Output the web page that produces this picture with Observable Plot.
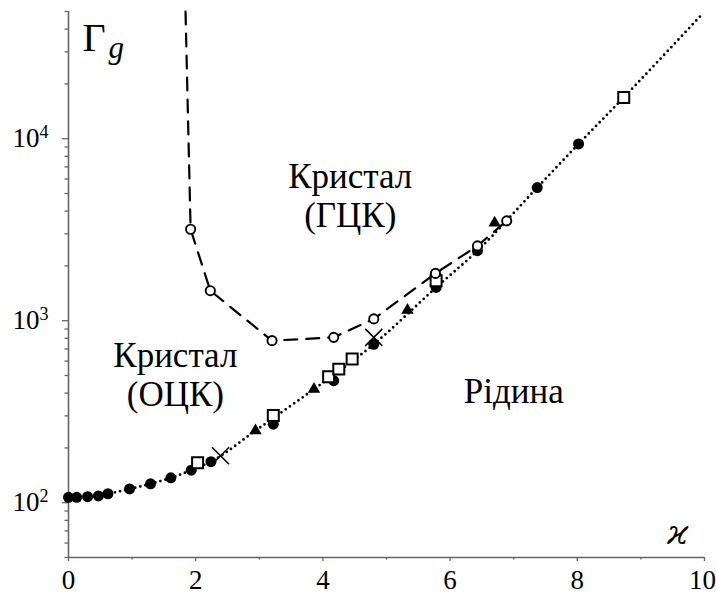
<!DOCTYPE html>
<html>
<head>
<meta charset="utf-8">
<script src="https://cdn.jsdelivr.net/npm/d3@7"></script>
<script src="https://cdn.jsdelivr.net/npm/@observablehq/plot@0.6"></script>
<style>
  html, body { margin: 0; padding: 0; background: #fff; font-family: "Liberation Serif", serif; }
  #chart svg { display: block; overflow: visible; }
</style>
</head>
<body>
<div id="chart"></div>
<script>
// Melting line of the bcc crystal (filled circles)
const bccMeltX = [0, 0.13, 0.30, 0.47, 0.62, 0.96, 1.29, 1.61, 1.93, 2.24, 3.22, 4.17, 4.80, 5.78, 6.43, 7.37, 8.02];
const bccMeltY = [107, 107, 108, 109, 112, 119, 127, 137, 151, 168, 270, 468, 742, 1523, 2424, 5388, 9355];

// bcc–fcc boundary (open circles)
const fccBoundX = [1.92, 2.23, 3.20, 4.17, 4.80, 5.77, 6.43, 6.89];
const fccBoundY = [3180, 1462, 777, 810, 1023, 1820, 2577, 3536];

// Other melting estimates
const squareX = [2.03, 3.22, 4.09, 4.25, 4.46, 5.78, 8.73];
const squareY = [166, 301, 492, 542, 616, 1657, 16860];
const triangleX = [2.94, 3.86, 5.33, 6.70];
const triangleY = [249, 421, 1143, 3450];
const crossX = [2.39, 4.80];
const crossY = [181, 810];

// Fitted melting curve (dotted)
const fitX = [0, 0.62, 0.96, 1.29, 1.61, 1.93, 2.24, 2.94, 3.86, 4.80, 5.78, 6.43, 7.37, 8.02, 8.73, 9.94];
const fitY = [107, 112, 119, 127, 137, 151, 168, 249, 421, 742, 1523, 2424, 5388, 9355, 16860, 47400];

// Boundary line (dashed): starts at the top of the frame
const boundX = [1.84, 1.92, 2.23, 3.20, 4.17, 4.80, 5.77, 6.43, 6.89];
const boundY = [50000, 3180, 1462, 777, 810, 1023, 1820, 2577, 3536];

// Axis ticks
const xMajorTicks = [0, 2, 4, 6, 8, 10];
const xMinorTicks = [1, 3, 5, 7, 9];
const yMajorTicks = [100, 1000, 10000];
const yMinorTicks = [50, 60, 70, 80, 90, 200, 300, 400, 500, 600, 700, 800, 900,
                     2000, 3000, 4000, 5000, 6000, 7000, 8000, 9000, 20000, 30000, 40000, 50000];

// Region labels
const regionLabels = [
  {x: 4.43, y: 3285, text: "Кристал\n(ГЦК)"},
  {x: 1.68, y: 341, text: "Кристал\n(ОЦК)"},
  {x: 7.00, y: 354, text: "Рідина"}
];

const pts = (xs, ys) => xs.map((x, i) => ({x, y: ys[i]}));

const serif = "Liberation Serif, Tinos, Times New Roman, DejaVu Serif, serif";
const kappaFont = "DejaVu Serif, Liberation Serif, serif";

const chart = Plot.plot({
  width: 716,
  height: 594,
  marginLeft: 68,
  marginRight: 12,
  marginTop: 11,
  marginBottom: 37,
  style: {fontSize: "27px", fontFamily: serif, color: "#000", background: "#fff"},
  x: {domain: [0, 10]},
  y: {type: "log", domain: [50, 50000]},
  marks: [
    Plot.axisX({ticks: xMajorTicks, tickSize: 4, tickPadding: 8, stroke: "#666", strokeWidth: 1.3,
                tickFormat: d => String(d), label: null, fontFamily: serif}),
    Plot.axisX({ticks: xMinorTicks, tickSize: 2.5, stroke: "#666", strokeWidth: 1.3,
                tickFormat: () => "", label: null}),
    Plot.axisY({ticks: yMajorTicks, tickSize: 6, tickPadding: 14, stroke: "#666", strokeWidth: 1.3,
                tickFormat: d => "10^" + Math.round(Math.log10(d)), label: null, fontFamily: serif}),
    Plot.axisY({ticks: yMinorTicks, tickSize: 3.5, stroke: "#666", strokeWidth: 1.3,
                tickFormat: () => "", label: null}),
    Plot.ruleX([0], {stroke: "#666", strokeWidth: 1.6}),
    Plot.ruleY([50], {stroke: "#666", strokeWidth: 1.6}),

    // dotted melting curve
    Plot.line(pts(fitX, fitY), {x: "x", y: "y", curve: "monotone-x", stroke: "#000",
      strokeWidth: 2.8, strokeDasharray: "0 5.2", strokeLinecap: "round"}),
    // dashed bcc–fcc boundary
    Plot.line(pts(boundX, boundY), {x: "x", y: "y", curve: "linear", stroke: "#000",
      strokeWidth: 2.2, strokeDasharray: "13 9"}),

    Plot.dot(pts(bccMeltX, bccMeltY), {x: "x", y: "y", r: 5.5, fill: "#000", stroke: "none"}),
    Plot.dot(pts(triangleX, triangleY), {x: "x", y: "y", symbol: "triangle", r: 4.6, fill: "#000", stroke: "none"}),
    Plot.dot(pts(crossX, crossY), {x: "x", y: "y", symbol: "times", r: 7.8, stroke: "#000", strokeWidth: 1.5}),
    Plot.dot(pts(squareX, squareY), {x: "x", y: "y", symbol: "square", r: 6.2, fill: "#fff", stroke: "#000", strokeWidth: 2}),
    Plot.dot(pts(fccBoundX, fccBoundY), {x: "x", y: "y", r: 4.6, fill: "#fff", stroke: "#000", strokeWidth: 1.9}),

    Plot.text(regionLabels, {x: "x", y: "y", text: "text", fontSize: 35, lineHeight: 1.11,
      lineAnchor: "bottom", textAnchor: "middle", fill: "#000", fontFamily: serif}),

    // axis names
    Plot.text(["Γ"], {x: 0.22, y: 30450, text: d => d, fontSize: 40, lineAnchor: "bottom", textAnchor: "start",
      fill: "#000", fontFamily: serif}),
    Plot.text(["ϰ"], {x: 9.58, y: 59.5, text: d => d, fontSize: 34, fontStyle: "italic", lineAnchor: "bottom",
      textAnchor: "middle", fill: "#000", fontFamily: kappaFont})
  ]
});

const svg = d3.select(chart);

// Serif face on the whole figure: root attribute plus every text element
chart.setAttribute("font-family", serif);
svg.selectAll("text").each(function () {
  const own = this.parentNode.getAttribute("font-family") || "";
  const fam = /^DejaVu/.test(own) ? kappaFont : serif;
  this.setAttribute("font-family", fam);
  this.style.setProperty("font-family", fam, "important");
});

// Powers of ten on the y axis as superscripts
svg.selectAll('g[aria-label="y-axis tick label"] text').each(function () {
  const t = this.textContent;
  if (!t.includes("^")) return;
  const [base, exp] = t.split("^");
  const s = d3.select(this);
  s.text(base);
  s.append("tspan").attr("dy", "-9").attr("font-size", "18").text(exp);
});

// Keep the last x label inside the frame
svg.selectAll('g[aria-label="x-axis tick label"] text')
  .filter(function () { return this.textContent === "10"; })
  .attr("dx", "-2");

// Subscript g after Γ
svg.selectAll("text").filter(function () { return this.textContent === "Γ"; })
  .append("tspan")
  .attr("dx", "3").attr("dy", "7")
  .attr("font-size", "31").attr("font-style", "italic")
  .text("g");

document.getElementById("chart").appendChild(chart);
</script>
</body>
</html>
